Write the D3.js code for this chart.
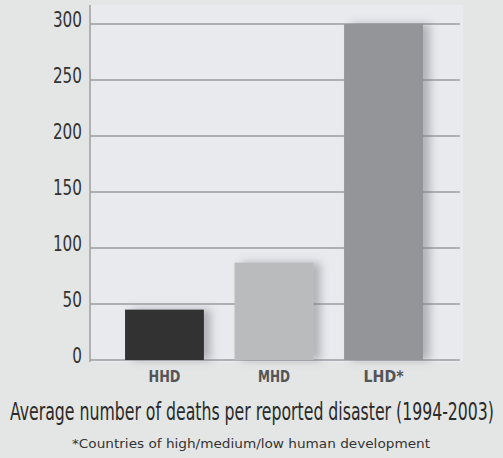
<!DOCTYPE html>
<html><head><meta charset="utf-8">
<script src="https://cdn.jsdelivr.net/npm/d3@7"></script>
<style>
html,body{margin:0;padding:0;background:#e3e6e5;}
svg{display:block;}
</style></head>
<body>
<svg id="chart" width="503" height="458"></svg>
<script>
const categories = ["HHD", "MHD", "LHD*"];
const values = [45, 87, 300];
const barColors = ["#333333", "#b9bbbd", "#939598"];
const yTicks = [0, 50, 100, 150, 200, 250, 300];
const title = "Average number of deaths per reported disaster (1994-2003)";
const footnote = "*Countries of high/medium/low human development";

(function () {
const svg = d3.select("#chart");
const W = 503, H = 458;
svg.append("rect").attr("width", W).attr("height", H).attr("fill", "#e3e6e5");

const defs = svg.append("defs");
const f = defs.append("filter").attr("id", "shadow").attr("x", "-20%").attr("y", "-20%").attr("width", "160%").attr("height", "140%");
f.append("feDropShadow").attr("dx", 7).attr("dy", 0).attr("stdDeviation", 4)
  .attr("flood-color", "#6d7074").attr("flood-opacity", 0.45);

const pLeft = 90, pRight = 463, pTop = 5, pBottom = 362;
const x = d3.scaleBand().domain(categories).range([90, 458]).paddingInner(0.28).paddingOuter(0.32);
const y = d3.scaleLinear().domain([0, 300]).range([360, 24]);

// plot background
svg.append("rect").attr("x", pLeft).attr("y", pTop).attr("width", pRight - pLeft).attr("height", pBottom - pTop)
  .attr("fill", "#e8eaee");

// gridlines
svg.append("g").selectAll("line").data(yTicks).join("line")
  .attr("x1", pLeft).attr("x2", pRight - 3)
  .attr("y1", d => y(d)).attr("y2", d => y(d))
  .attr("stroke", "#9c9ea2").attr("stroke-width", 1.5);

// y axis line
svg.append("line").attr("x1", pLeft).attr("x2", pLeft).attr("y1", pTop).attr("y2", pBottom)
  .attr("stroke", "#9c9ea2").attr("stroke-width", 1.5);

// y tick labels
const yAxis = d3.axisLeft(y).tickValues(yTicks).tickSize(0).tickPadding(8);
const gy = svg.append("g").attr("transform", `translate(${pLeft},0)`).call(yAxis);
gy.select(".domain").remove();
gy.selectAll("text")
  .attr("font-family", "'DejaVu Sans Condensed', 'Liberation Sans Narrow', sans-serif")
  .attr("font-size", 21).attr("fill", "#333")
  .attr("dy", "0").attr("y", 2)
  .attr("textLength", d => String(d).length * 9.7)
  .attr("lengthAdjust", "spacingAndGlyphs");

// bars
svg.append("g").selectAll("rect").data(values).join("rect")
  .attr("x", (d, i) => x(categories[i]))
  .attr("y", d => y(d))
  .attr("width", x.bandwidth())
  .attr("height", d => y(0) - y(d))
  .attr("fill", (d, i) => barColors[i])
  .attr("filter", "url(#shadow)");

// category labels
const xAxis = d3.axisBottom(x).tickSize(0).tickPadding(0);
const gx = svg.append("g").attr("transform", `translate(0,${y(0)})`).call(xAxis);
gx.select(".domain").remove();
gx.selectAll("text")
  .attr("font-family", "'DejaVu Sans Condensed', sans-serif")
  .attr("font-weight", "bold")
  .attr("font-size", 15).attr("fill", "#555")
  .attr("dy", "0").attr("y", 22)
  .attr("textLength", d => d.length === 3 ? 32 : 40)
  .attr("lengthAdjust", "spacingAndGlyphs");

// title
svg.append("text").attr("x", 10).attr("y", 420)
  .attr("font-family", "'DejaVu Sans Condensed', sans-serif")
  .attr("font-size", 24).attr("fill", "#2a2a2a")
  .attr("textLength", 484).attr("lengthAdjust", "spacingAndGlyphs")
  .text(title);

svg.append("text").attr("x", 72).attr("y", 448)
  .attr("font-family", "'DejaVu Sans', sans-serif")
  .attr("font-size", 13).attr("fill", "#333")
  .attr("textLength", 358).attr("lengthAdjust", "spacingAndGlyphs")
  .text(footnote);
})();
</script>
</body></html>
